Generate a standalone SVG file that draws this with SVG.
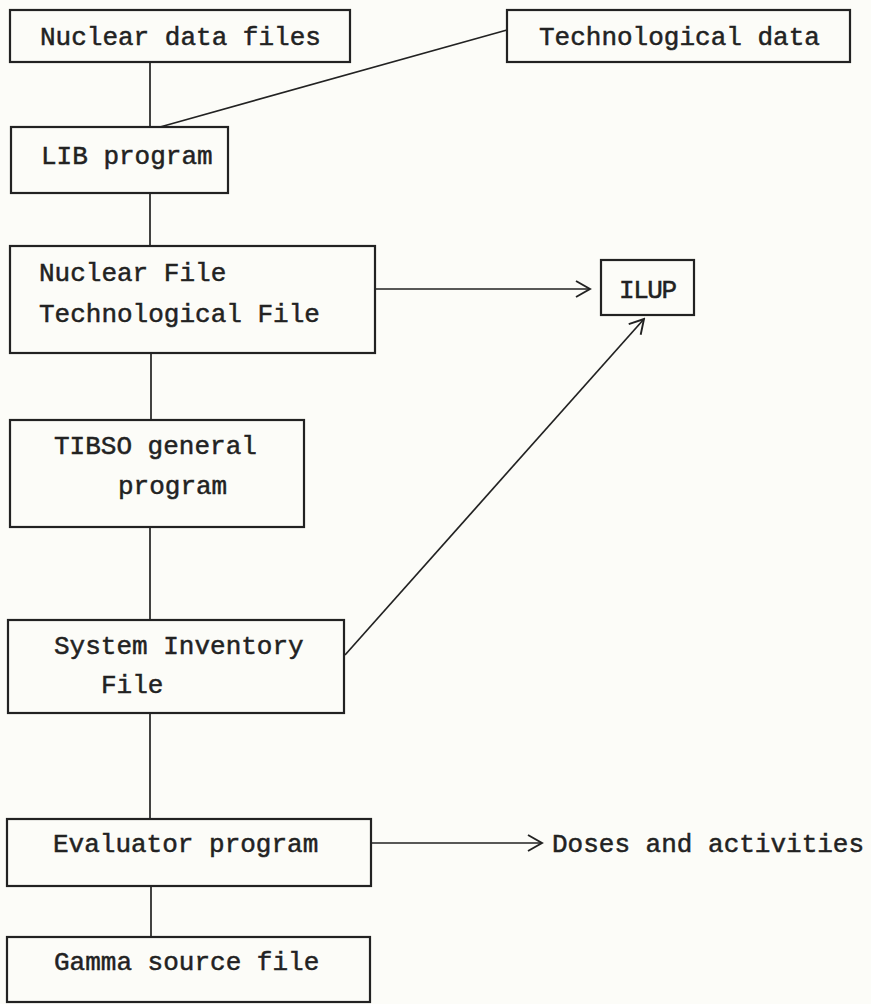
<svg xmlns="http://www.w3.org/2000/svg" width="871" height="1004" viewBox="0 0 871 1004">
<style>
.box{fill:none;stroke:#222;stroke-width:2.2}
.t{font-family:"Liberation Mono","DejaVu Sans Mono",monospace;font-size:26px;fill:#222;stroke:#222;stroke-width:0.5}
.c{fill:none;stroke:#222;stroke-width:1.7}
</style>
<defs>
<marker id="arr" viewBox="0 0 20 20" refX="18" refY="10" markerWidth="20" markerHeight="20" markerUnits="userSpaceOnUse" orient="auto">
<path d="M4,2 L18,10 L4,18" fill="none" stroke="#222" stroke-width="1.9"/>
</marker>
</defs>
<rect width="871" height="1004" fill="#fcfcf8"/>
<g id="connectors">
<line class="c" x1="150" y1="62" x2="150" y2="127"/>
<line class="c" x1="507" y1="30" x2="160" y2="127"/>
<line class="c" x1="150" y1="193" x2="150" y2="246"/>
<line class="c" x1="375" y1="289" x2="590" y2="289" marker-end="url(#arr)"/>
<line class="c" x1="151" y1="353" x2="151" y2="420"/>
<line class="c" x1="150" y1="527" x2="150" y2="620"/>
<line class="c" x1="345" y1="655" x2="644" y2="319" marker-end="url(#arr)"/>
<line class="c" x1="150" y1="713" x2="150" y2="819"/>
<line class="c" x1="371" y1="843" x2="542" y2="843" marker-end="url(#arr)"/>
<line class="c" x1="151" y1="886" x2="151" y2="937"/>
</g>
<g id="nuclear-data-files">
<rect class="box" x="10" y="10" width="340" height="52"/>
<text class="t" x="40" y="45">Nuclear data files</text>
</g>
<g id="technological-data">
<rect class="box" x="507" y="10" width="343" height="52"/>
<text class="t" x="539" y="45">Technological data</text>
</g>
<g id="lib-program">
<rect class="box" x="11" y="127" width="217" height="66"/>
<text class="t" x="41" y="164">LIB program</text>
</g>
<g id="nuclear-tech-file">
<rect class="box" x="10" y="246" width="365" height="107"/>
<text class="t" x="39" y="281">Nuclear File</text>
<text class="t" x="39" y="322">Technological File</text>
</g>
<g id="ilup">
<rect class="box" x="601" y="260" width="93" height="55"/>
<text class="t" x="619" y="298" textLength="58">ILUP</text>
</g>
<g id="tibso">
<rect class="box" x="10" y="420" width="294" height="107"/>
<text class="t" x="54" y="454">TIBSO general</text>
<text class="t" x="118" y="494">program</text>
</g>
<g id="system-inventory">
<rect class="box" x="8" y="620" width="336" height="93"/>
<text class="t" x="54" y="654">System Inventory</text>
<text class="t" x="101" y="693">File</text>
</g>
<g id="evaluator">
<rect class="box" x="7" y="819" width="364" height="67"/>
<text class="t" x="53" y="852">Evaluator program</text>
</g>
<g id="doses">
<text class="t" x="552" y="852">Doses and activities</text>
</g>
<g id="gamma">
<rect class="box" x="7" y="937" width="363" height="65"/>
<text class="t" x="54" y="970">Gamma source file</text>
</g>
</svg>
